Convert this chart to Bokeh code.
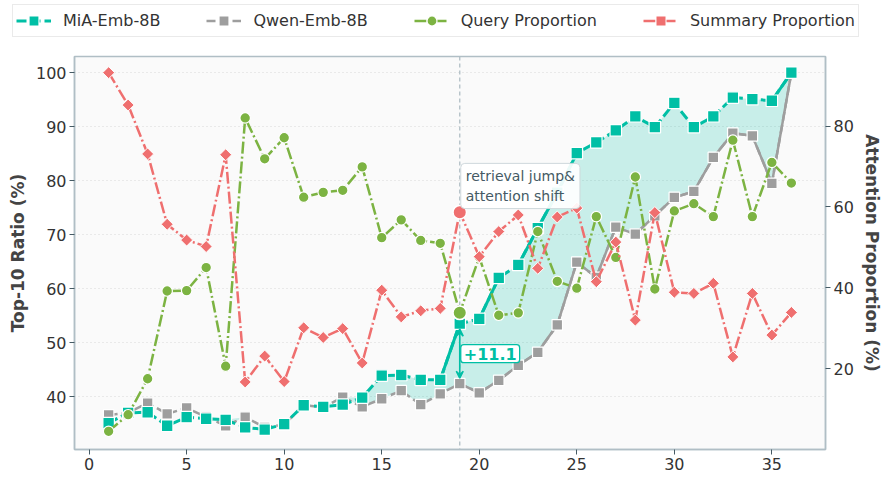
import numpy as np
from bokeh.plotting import figure
from bokeh.layouts import column, row
from bokeh.models import (Range1d, LinearAxis, Legend, LegendItem, Label, Arrow,
                          VeeHead, Span, FixedTicker)
from bokeh.embed import file_html
from bokeh.resources import INLINE

# ---------------- data ----------------
steps = list(range(1, 37))
mia = [35.1, 37.0, 37.1, 34.6, 36.2, 35.9, 35.7, 34.3, 33.9, 34.9,
       38.4, 38.1, 38.5, 39.8, 43.9, 44.0, 43.1, 43.1, 53.5, 54.4,
       62.0, 64.4, 71.2, 77.8, 85.1, 87.1, 89.3, 91.9, 89.9, 94.4,
       89.9, 91.9, 95.4, 95.1, 94.8, 100.0]
qwen = [36.6, 37.0, 38.8, 36.8, 37.9, 36.2, 34.6, 36.2, 34.3, 34.8,
        38.4, 38.0, 39.9, 38.1, 39.6, 41.1, 38.5, 40.5, 42.4, 40.7,
        43.0, 45.8, 48.2, 53.3, 64.9, 62.1, 71.4, 70.1, 73.5, 76.9,
        78.0, 84.3, 88.8, 88.3, 79.5, 100.0]
query = [4.5, 8.6, 17.5, 39.2, 39.3, 45.0, 20.6, 82.0, 71.9, 77.1,
         62.4, 63.6, 64.1, 69.9, 52.4, 56.8, 51.7, 51.0, 33.8, 47.6,
         33.2, 33.8, 53.9, 41.6, 39.9, 57.6, 47.5, 67.4, 39.7, 59.0,
         60.8, 57.6, 76.5, 57.6, 71.0, 65.9]
summary = [93.2, 85.2, 73.1, 55.7, 51.8, 50.2, 72.9, 16.7, 23.1, 16.8,
           30.1, 27.7, 29.9, 21.4, 39.4, 32.8, 34.3, 34.9, 58.7, 47.7,
           53.9, 58.0, 44.8, 57.5, 59.7, 41.5, 51.3, 32.0, 58.6, 38.9,
           38.6, 41.1, 22.9, 38.6, 28.3, 33.9]
series_names = ["MiA-Emb-8B", "Qwen-Emb-8B", "Query Proportion", "Summary Proportion"]
left_ticks = [40, 50, 60, 70, 80, 90, 100]
right_ticks = [20, 40, 60, 80]
x_ticks = [0, 5, 10, 15, 20, 25, 30, 35]
jump_step = 19
note_text = "retrieval jump&\nattention shift"
left_label = "Top-10 Ratio (%)"
right_label = "Attention Proportion (%)"

TEAL = "#00BFA5"
GRAY = "#9E9E9E"
GREEN = "#7CB342"
RED = "#EF6F6F"
FONT = "DejaVu Sans"

x = np.array(steps, dtype=float)
m = np.array(mia)
q = np.array(qwen)
qa = np.array(query)
sa = np.array(summary)
j = steps.index(jump_step)

# ---------------- styles ----------------
sty = {
    "mia_line": dict(line_color=TEAL, line_width=3, line_dash="10 4"),
    "mia_pt": dict(marker="square", size=11.5, fill_color=TEAL, line_color="white", line_width=1.2),
    "qwen_line": dict(line_color=GRAY, line_width=2.5, line_dash="9 4"),
    "qwen_pt": dict(marker="square", size=10.5, fill_color=GRAY, line_color="white", line_width=1.2),
    "query_line": dict(line_color=GREEN, line_width=2.5, line_dash="12 3 2 3"),
    "query_pt": dict(marker="circle", size=10.5, fill_color=GREEN, line_color="white", line_width=1.2),
    "sum_line": dict(line_color=RED, line_width=2.5, line_dash="12 3 2 3"),
    "sum_pt": dict(marker="square", angle=np.pi / 4, size=8.5, fill_color=RED,
                   line_color="white", line_width=1.0),
}

# ---------------- main figure ----------------
p = figure(width=884, height=428, output_backend="svg", toolbar_location=None,
           x_range=Range1d(-0.75, 37.75), y_range=Range1d(30.2, 103.0),
           min_border_left=74, min_border_right=56, min_border_top=8,
           min_border_bottom=27)
p.extra_y_ranges = {"att": Range1d(0.0, 97.2)}
p.background_fill_color = "#FAFAFA"
p.border_fill_color = "white"
p.outline_line_color = "#B0BEC5"
p.outline_line_width = 1.5
p.xgrid.visible = False
p.ygrid.grid_line_color = "#D8D8D8"
p.ygrid.grid_line_dash = "1 3"
p.ygrid.grid_line_width = 1

right_axis = LinearAxis(y_range_name="att")
p.add_layout(right_axis, "right")

xa = p.below[0]
ya = p.left[0]
xa.ticker = FixedTicker(ticks=x_ticks)
ya.ticker = FixedTicker(ticks=left_ticks)
right_axis.ticker = FixedTicker(ticks=right_ticks)
ya.axis_label = left_label
right_axis.axis_label = right_label
for ax in (xa, ya, right_axis):
    ax.axis_line_color = "#B0BEC5"
    ax.axis_line_width = 1.5
    ax.major_tick_line_color = "#455A64"
    ax.major_tick_line_width = 1
    ax.major_tick_out = 5
    ax.major_tick_in = 0
    ax.minor_tick_line_color = None
    ax.major_label_text_font = FONT
    ax.major_label_text_font_size = "16px"
    ax.major_label_text_color = "#333333"
    ax.major_label_standoff = 3
    ax.axis_label_text_font = FONT
    ax.axis_label_text_font_size = "17px"
    ax.axis_label_text_font_style = "bold"
    ax.axis_label_text_color = "#444444"
    ax.axis_label_standoff = 5

# vertical marker line
p.add_layout(Span(location=jump_step, dimension="height", line_color="#B0BEC5",
                  line_dash="4 3", line_width=1.3, level="underlay"))

# fill between MiA and Qwen
p.varea(x=x, y1=q, y2=np.maximum(m, q), fill_color=TEAL, fill_alpha=0.2)

# Qwen
p.line(x, q, **sty["qwen_line"])
post = x >= jump_step
p.line(x[post], q[post], line_color=GRAY, line_width=2.5)
p.scatter(x, q, **sty["qwen_pt"])

# MiA
p.line(x, m, **sty["mia_line"])
d = np.diff(m)
sel = d > 5
p.segment(x0=x[:-1][sel], y0=m[:-1][sel], x1=x[1:][sel], y1=m[1:][sel],
          line_color=TEAL, line_width=3)
p.scatter(x, m, **sty["mia_pt"])

# Query
p.line(x, qa, y_range_name="att", **sty["query_line"])
p.scatter(x, qa, y_range_name="att", **sty["query_pt"])

# Summary
p.line(x, sa, y_range_name="att", **sty["sum_line"])
p.scatter(x, sa, y_range_name="att", **sty["sum_pt"])

# highlighted points at the jump
p.scatter([x[j]], [qa[j]], marker="circle", size=13.5, fill_color=GREEN,
          line_color="white", line_width=1.5, y_range_name="att")
p.scatter([x[j]], [sa[j]], marker="circle", size=13.5, fill_color=RED,
          line_color="white", line_width=1.5, y_range_name="att")

# double arrow for gap
p.add_layout(Arrow(start=VeeHead(size=7, line_color=TEAL, fill_color=TEAL, line_width=1.5),
                   end=VeeHead(size=7, line_color=TEAL, fill_color=TEAL, line_width=1.5),
                   x_start=x[j], y_start=q[j] + 1.0, x_end=x[j], y_end=m[j] - 1.0,
                   line_color=TEAL, line_width=1.6))
p.add_layout(Label(x=x[j], y=(m[j] + q[j]) / 2, x_offset=1,
                   text="+%.1f" % (m[j] - q[j]), text_align="left",
                   text_baseline="middle", text_font=FONT, text_font_size="16px",
                   text_font_style="bold", text_color=TEAL,
                   background_fill_color="white", border_line_color=TEAL,
                   border_line_width=1.3, padding=3, border_radius=3))
p.add_layout(Label(x=x[j], y=83.2, x_offset=1, text=note_text, text_align="left",
                   text_baseline="top", text_font=FONT, text_font_size="14px",
                   text_color="#455A64", background_fill_color="white",
                   background_fill_alpha=0.92, border_line_color="#CFD8DC",
                   border_line_width=1, padding=5, border_radius=4))

# ---------------- legend strip ----------------
# proxy renderers use the real series but sit outside the strip's visible range
lg = figure(width=884, height=48, output_backend="svg", toolbar_location=None,
            x_range=Range1d(-200, -199), y_range=Range1d(-200, -199),
            x_axis_type=None, y_axis_type=None, min_border=0)
lg.outline_line_color = None
lg.background_fill_color = "white"
lg.border_fill_color = "white"
lg.grid.visible = False
items = []
for name, ys, lk, pk in zip(series_names, [m, q, qa, sa],
                            ["mia_line", "qwen_line", "query_line", "sum_line"],
                            ["mia_pt", "qwen_pt", "query_pt", "sum_pt"]):
    rl = lg.line(x, ys, **sty[lk])
    rp = lg.scatter(x, ys, **sty[pk])
    items.append(LegendItem(label=name, renderers=[rl, rp]))

legend = Legend(items=items, orientation="horizontal", location=(12, 11),
                label_text_font=FONT, label_text_font_size="16px",
                label_text_color="#333333", glyph_width=35, glyph_height=25,
                label_height=20, label_standoff=12, spacing=46, padding=3,
                margin=0, background_fill_color="white",
                border_line_color="#D5D5D5", border_line_width=1)
lg.add_layout(legend)

layout = column(row(lg), p, spacing=0)
open("out.html", "w").write(file_html(layout, INLINE))
